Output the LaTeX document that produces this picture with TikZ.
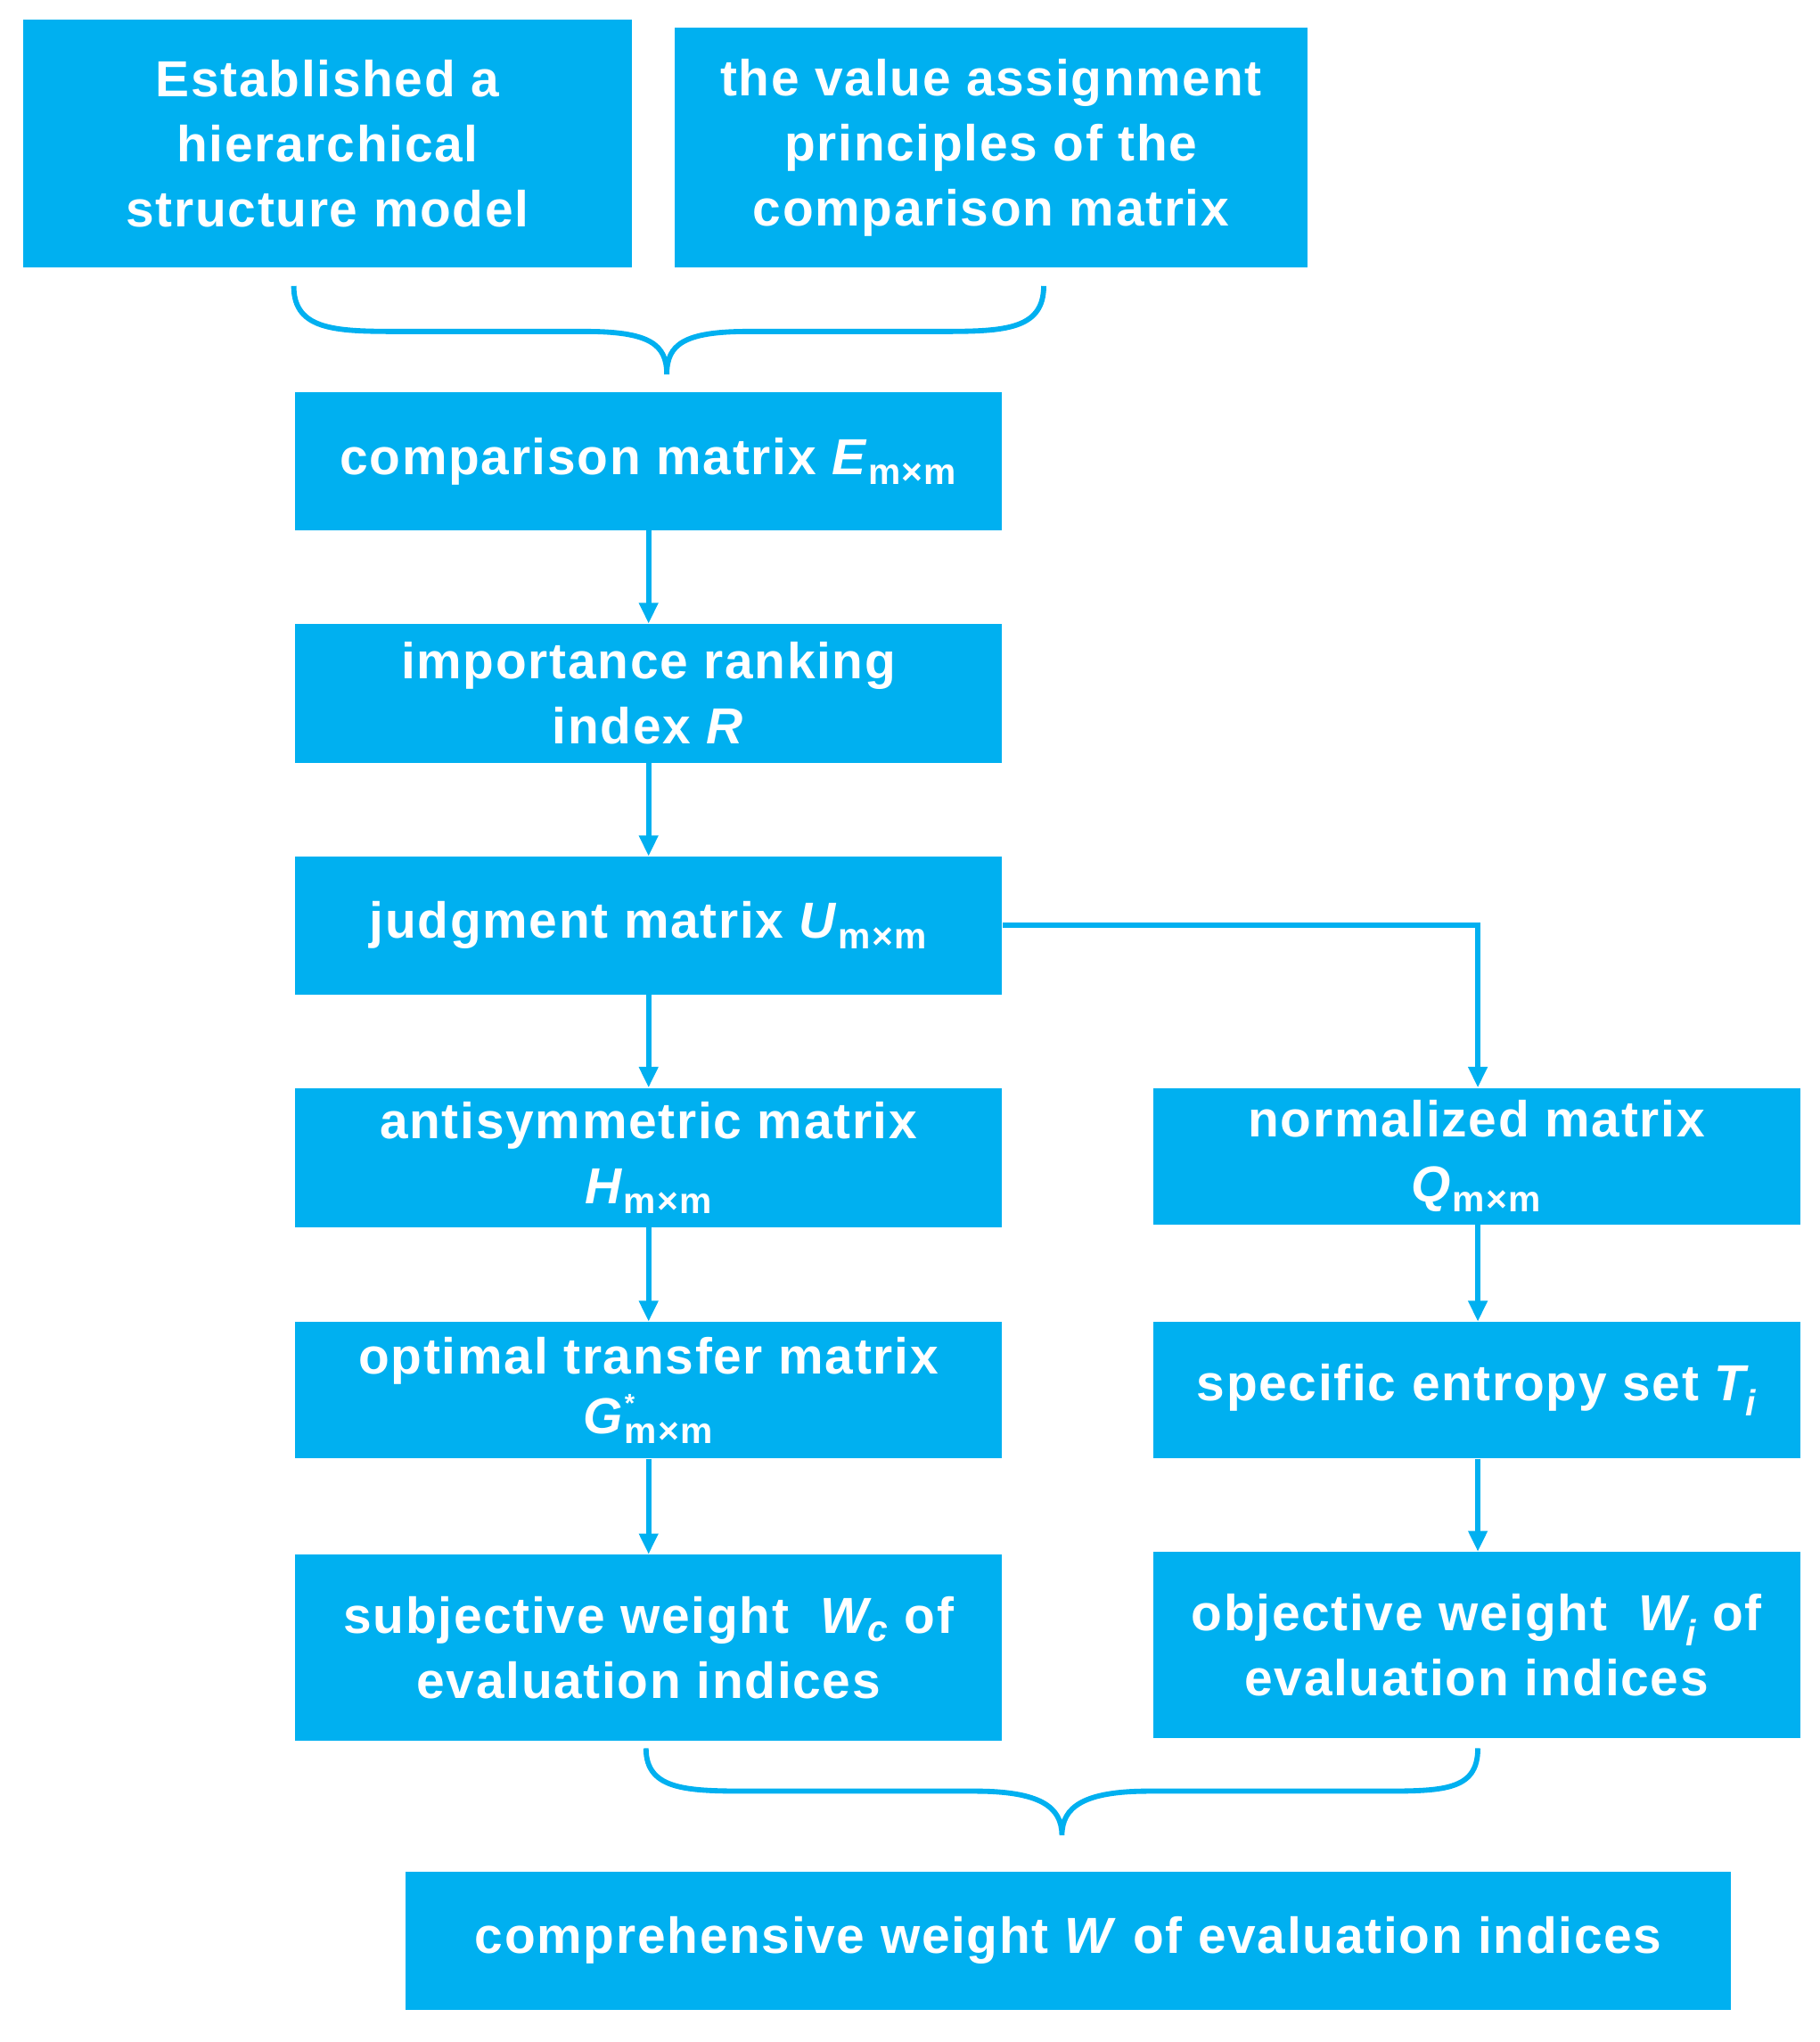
\documentclass[tikz,border=0pt]{standalone}
\usepackage{fontspec}
\setmainfont{Liberation Sans}[LetterSpace=3]
\usetikzlibrary{arrows.meta}
\definecolor{cb}{HTML}{00B0F0}
\newcommand{\sbs}[1]{\textsubscript{\fontsize{28}{28}\selectfont #1}}
\begin{document}
\begin{tikzpicture}[x=1pt,y=-1pt,
 box/.style={fill=cb,draw=none,text=white,font=\fontsize{39}{50}\selectfont\bfseries,align=center,inner sep=0pt},
 ln/.style={draw=cb,line width=4pt},
 ar/.style={ln,-{Triangle[length=16pt,width=14pt]}}]
\useasboundingbox (0,0) rectangle (1400,1571);
\newcommand{\bx}[6]{\node[box,minimum width=#4-#2,minimum height=#5-#3] (#1) at ({(#2+#4)/2},{(#3+#5)/2}) {#6};}
\bx{A}{18}{15}{486}{206}{Established a\\hierarchical\\structure model}
\bx{B}{519}{21}{1006}{206}{the value assignment\\principles of the\\comparison matrix}
\bx{C}{227}{302}{771}{408}{comparison matrix \textit{E}\sbs{m×m}}
\bx{D}{227}{480}{771}{587}{importance ranking\\index \textit{R}}
\bx{E}{227}{659}{771}{765}{judgment matrix \textit{U}\sbs{m×m}}
\bx{F}{227}{837}{771}{944}{antisymmetric matrix\\\textit{H}\sbs{m×m}}
\bx{G}{227}{1017}{771}{1122}{optimal transfer matrix\\[-4pt]\textit{G}\rlap{\raisebox{16pt}{\fontsize{20}{20}\selectfont *}}\sbs{m×m}}
\bx{H}{227}{1196}{771}{1339}{subjective weight~ \textit{W\sbs{c}} of\\evaluation indices}
\bx{I}{887}{837}{1385}{942}{normalized matrix\\\textit{Q}\sbs{m×m}}
\bx{J}{887}{1017}{1385}{1122}{specific entropy set \textit{T\sbs{i}}}
\bx{K}{887}{1194}{1385}{1337}{objective weight~ \textit{W\sbs{i}} of\\evaluation indices}
\bx{L}{312}{1440}{1332}{1546}{comprehensive weight \textit{W} of evaluation indices}
\draw[ln] (226,220) .. controls (226,255) and (260,255) .. (310,255) -- (450,255) .. controls (500,255) and (513,265) .. (513,288)
 .. controls (513,265) and (526,255) .. (576,255) -- (720,255) .. controls (770,255) and (803,255) .. (803,220);
\draw[ln] (497,1345) .. controls (497,1378) and (530,1378) .. (580,1378) -- (750,1378) .. controls (800,1378) and (817,1390) .. (817,1412)
 .. controls (817,1390) and (834,1378) .. (884,1378) -- (1060,1378) .. controls (1110,1378) and (1137,1378) .. (1137,1345);
\draw[ar] (C) -- (D);
\draw[ar] (D) -- (E);
\draw[ar] (E) -- (F);
\draw[ar] (F) -- (G);
\draw[ar] (G) -- (H);
\draw[ar] (E.east |- 0,712) -| (I.north -| 1137,0);
\draw[ar] (I.south -| 1137,0) -- (J.north -| 1137,0);
\draw[ar] (J.south -| 1137,0) -- (K.north -| 1137,0);
\end{tikzpicture}
\end{document}
